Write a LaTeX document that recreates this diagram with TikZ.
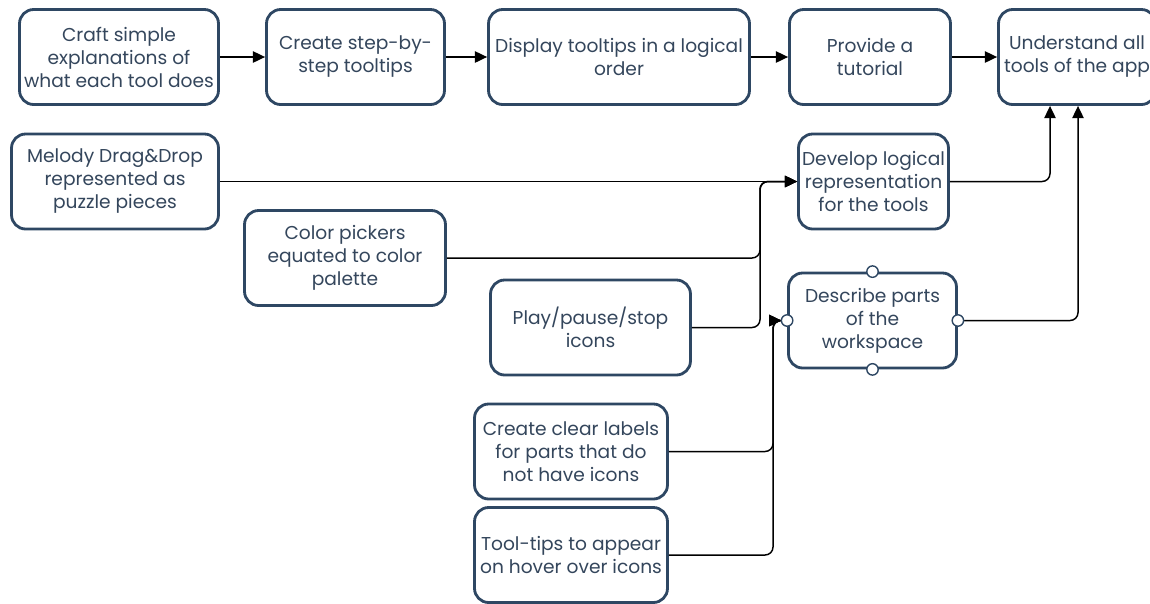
\documentclass[tikz,border=0pt]{standalone}
\usepackage{fontspec}
\setmainfont{Poppins}
\usetikzlibrary{arrows.meta}

\definecolor{boxedge}{HTML}{2E4763}
\definecolor{boxtext}{HTML}{34465C}

\tikzset{
  stepbox/.style={draw=boxedge, line width=1.6pt, rounded corners=8pt,
    fill=white, text=boxtext, align=center, inner sep=2pt,
    minimum height=1.9cm},
  link/.style={-{Triangle[length=7pt,width=6.5pt]}, line width=0.85pt,
    rounded corners=4.5pt},
  port/.style={circle, draw=boxedge, fill=white, line width=0.8pt,
    inner sep=0pt, minimum size=6.5pt}
}

\begin{document}
\begin{tikzpicture}[x=0.02cm, y=-0.02cm,
    every node/.style={font=\fontsize{10.6}{13.1}\selectfont}]

      % page frame, cut at the edges like the original
      \path[use as bounding box, clip] (0,0) rectangle (1150,603);

      % Top row
      \node[stepbox, minimum width=3.98cm] (craft) at (119,57)
        {Craft simple\\explanations of\\what each tool does};
      \node[stepbox, minimum width=3.56cm] (stepwise) at (355.5,57)
        {Create step-by-\\step tooltips};
      \node[stepbox, minimum width=5.22cm] (order) at (619,57)
        {Display tooltips in a logical\\order};
      \node[stepbox, minimum width=3.22cm] (tutorial) at (870,57)
        {Provide a\\tutorial};
      \node[stepbox, minimum width=3.14cm] (under) at (1077,57)
        {Understand all\\tools of the app};

      % Representation branch
      \node[stepbox, minimum width=4.14cm] (melody) at (115,181.5)
        {Melody Drag\&Drop\\represented as\\puzzle pieces};
      \node[stepbox, minimum width=3.0cm] (develop) at (873.5,181.5)
        {Develop logical\\representation\\for the tools};
      \node[stepbox, minimum width=4.02cm] (picker) at (345,258)
        {Color pickers\\equated to color\\palette};
      \node[stepbox, minimum width=4.0cm] (play) at (590.5,327.5)
        {Play/pause/stop\\icons};

      % Workspace branch
      \node[stepbox, minimum width=3.36cm] (describe) at (872.5,320.5)
        {Describe parts\\of the\\workspace};
      \node[stepbox, minimum width=3.86cm] (labels) at (571,451.5)
        {Create clear labels\\for parts that do\\not have icons};
      \node[stepbox, minimum width=3.86cm] (hover) at (571,555)
        {Tool-tips to appear\\on hover over icons};

      \coordinate (busA) at (760,0);
      \coordinate (busB) at (773,0);

      % Top row arrows
      \foreach \a/\b in {craft/stepwise, stepwise/order, order/tutorial,
        tutorial/under} {
        \draw[link] (\a) -- (\b);
      }

      % Into the representation box
      \draw[link] (melody) -- (develop);
      \draw[link] (picker.east) -- (picker.east -| busA) |- (develop.west);
      \draw[link] (play.east) -- (play.east -| busA) |- (develop.west);

      % Into the workspace box
      \draw[link] (labels.east) -- (labels.east -| busB) |- ([xshift=-3.25pt]describe.west);
      \draw[link] (hover.east) -- (hover.east -| busB) |- ([xshift=-3.25pt]describe.west);

      % Up to the goal
      \draw[link] (develop.east) -| ([xshift=-0.54cm]under.south);
      \draw[link] (describe.east) -| ([xshift=0.02cm]under.south);

      % Ports on the workspace box
      \foreach \side in {north, south, east, west} {
        \node[port] (port-\side) at (describe.\side) {};
      }
    \end{tikzpicture}
\end{document}
